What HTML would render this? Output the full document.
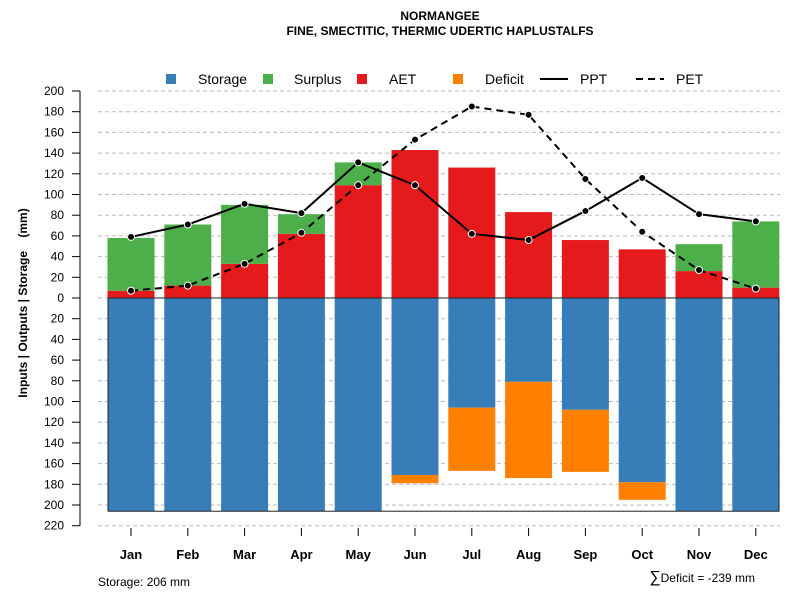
<!DOCTYPE html>
<html><head><meta charset="utf-8"><style>body{margin:0;background:#fff}svg{display:block;font-family:"Liberation Sans",sans-serif}</style></head>
<body>
<svg id="c" width="800" height="600">
<text x="440" y="20" text-anchor="middle" font-size="12" font-weight="bold">NORMANGEE</text>
<text x="440" y="35" text-anchor="middle" font-size="12" font-weight="bold">FINE, SMECTITIC, THERMIC UDERTIC HAPLUSTALFS</text>
<text transform="translate(27,303) rotate(-90)" text-anchor="middle" font-size="12" font-weight="bold">Inputs | Outputs | Storage&#160;&#160;&#160;&#160;(mm)</text>
<text x="98" y="586" font-size="12">Storage: 206 mm</text>
<text x="755" y="582" text-anchor="end" font-size="12"><tspan font-size="16">∑</tspan>Deficit = -239 mm</text>
<g id="grid"></g><g id="bars"></g><g id="axes"></g><g id="lines"></g>
<g id="legend"></g>
</svg>
<script>
const months=["Jan","Feb","Mar","Apr","May","Jun","Jul","Aug","Sep","Oct","Nov","Dec"];
const aet=[7,12,33,62,109,143,126,83,56,47,26,10];
const surplus=[51,59,57,19,22,0,0,0,0,0,26,64];
const storage=[206,206,206,206,206,171,106,81,108,178,206,206];
const deficit=[0,0,0,0,0,8,61,93,60,17,0,0];
const ppt=[59,71,91,82,131,109,62,56,84,116,81,74];
const pet=[7,12,33,63,109,153,185,177,115,64,27,9];
const yTicks=[200,180,160,140,120,100,80,60,40,20,0,20,40,60,80,100,120,140,160,180,200,220];
const NS="http://www.w3.org/2000/svg";
const Y=v=>298-v*1.035, X=i=>131+i*56.8, BW=47;
function mk(p,t,a){const e=document.createElementNS(NS,t);for(const k in a)e.setAttribute(k,a[k]);document.getElementById(p).appendChild(e);return e;}
yTicks.forEach((t,i)=>{const v=i<=10?t:-t;const y=Y(v);
 let g=mk('grid','line',{x1:98,x2:780,y1:y,y2:y,stroke:'#bbb','stroke-dasharray':'4,3'});
 
 
 mk('axes','line',{x1:72,x2:80,y1:y,y2:y,stroke:'#000'});
 let tx=mk('axes','text',{x:64,y:y+4,'text-anchor':'end','font-size':12});tx.textContent=t;
 
 
});
mk('axes','line',{x1:80,x2:80,y1:Y(200),y2:Y(-220),stroke:'#000'});
months.forEach((m,i)=>{const x=X(i),l=x-BW/2;
 let r;
 r=mk('bars','rect',{x:l,y:Y(aet[i]),width:BW,height:aet[i]*1.035,fill:'#E41A1C'});
 
 
 r=mk('bars','rect',{x:l,y:Y(aet[i]+surplus[i]),width:BW,height:surplus[i]*1.035,fill:'#4DAF4A'});
 
 
 r=mk('bars','rect',{x:l,y:Y(0),width:BW,height:storage[i]*1.035,fill:'#377EB8'});
 
 
 r=mk('bars','rect',{x:l,y:Y(-storage[i]),width:BW,height:deficit[i]*1.035,fill:'#FF7F00'});
 
 
 mk('axes','line',{x1:x,x2:x,y1:528,y2:536,stroke:'#000'});
 let t=mk('axes','text',{x:x,y:559,'text-anchor':'middle','font-size':13,'font-weight':'bold'});t.textContent=m;
 
 
});
const ob=mk('bars','rect',{x:108,y:Y(0),width:779-108,height:206*1.035,fill:'none',stroke:'#222','stroke-width':1});


function series(arr,dash,name){const pts=arr.map((v,i)=>X(i)+','+Y(v)).join(' ');
 const pl=mk('lines','polyline',{points:pts,fill:'none',stroke:'#000','stroke-width':2,'stroke-dasharray':dash});
 
 
 arr.forEach((v,i)=>{const c=mk('lines','circle',{cx:X(i),cy:Y(v),r:3.5,fill:'#000',stroke:'#fff','stroke-width':1});
  
  });}
series(ppt,'none','ppt');series(pet,'7,5','pet');
const leg=[['Storage','#377EB8',171,198],['Surplus','#4DAF4A',268,294],['AET','#E41A1C',362,389],['Deficit','#FF7F00',458,485]];
leg.forEach(l=>{mk('legend','rect',{x:l[2]-5,y:74,width:10,height:10,fill:l[1]});
 const t=mk('legend','text',{x:l[3],y:84,'font-size':14});t.textContent=l[0];
 
 });
mk('legend','line',{x1:540,x2:568,y1:79,y2:79,stroke:'#000','stroke-width':2});
let t1=mk('legend','text',{x:580,y:84,'font-size':14});t1.textContent='PPT';
mk('legend','line',{x1:636,x2:664,y1:79,y2:79,stroke:'#000','stroke-width':2,'stroke-dasharray':'7,5'});
let t2=mk('legend','text',{x:676,y:84,'font-size':14});t2.textContent='PET';
</script>
</body></html>
